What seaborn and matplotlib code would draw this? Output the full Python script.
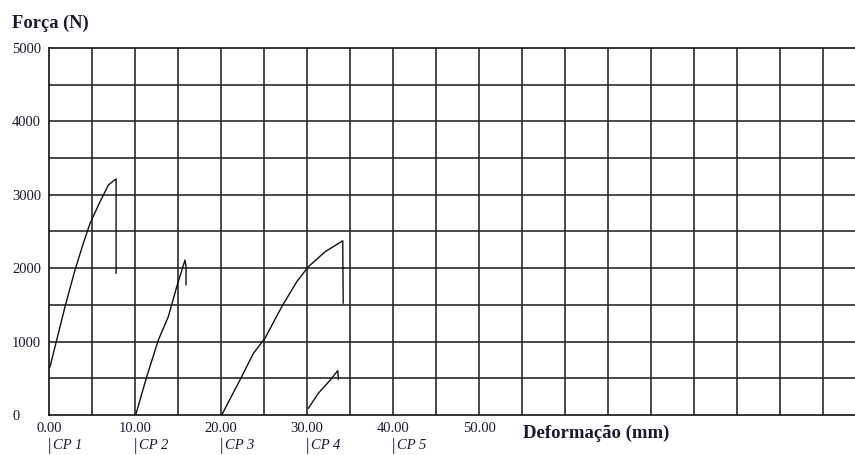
import matplotlib
matplotlib.use("Agg")
import matplotlib.pyplot as plt
import matplotlib.transforms as mtransforms
import pandas as pd
import seaborn as sns

# curves (x = deformacao mm, y = forca N)
cp1_x = [0.0, 0.12, 1.86, 3.02, 3.99, 4.77, 5.93, 6.9, 7.5, 7.8, 7.8]
cp1_y = [640, 658, 1475, 1975, 2339, 2611, 2905, 3133, 3190, 3215, 1930]
cp2_x = [10.08, 11.36, 12.71, 13.87, 14.85, 15.81, 15.93, 15.93]
cp2_y = [0, 522, 1021, 1339, 1748, 2111, 2020, 1771]
cp3_x = [20.08, 22.2, 23.76, 25.1, 27.06, 28.8, 30.15, 32.1, 34.15, 34.2]
cp3_y = [0, 477, 840, 1044, 1475, 1816, 2020, 2224, 2374, 1521]
cp4_x = [30.15, 31.3, 32.7, 33.57, 33.64]
cp4_y = [91, 295, 477, 604, 486]

cp_names = ["CP 1", "CP 2", "CP 3", "CP 4", "CP 5"]
cp_starts = [0, 10, 20, 30, 40]
x_labels = ["0.00", "10.00", "20.00", "30.00", "40.00", "50.00"]
y_ticks = [0, 1000, 2000, 3000, 4000, 5000]

rows = []
for name, xs, ys in [("CP 1", cp1_x, cp1_y), ("CP 2", cp2_x, cp2_y),
                     ("CP 3", cp3_x, cp3_y), ("CP 4", cp4_x, cp4_y)]:
    for i, (a, b) in enumerate(zip(xs, ys)):
        rows.append({"cp": name, "order": i, "x": a, "y": b})
df = pd.DataFrame(rows)

sns.set_style("white")
plt.rcParams["font.family"] = ["Liberation Serif", "DejaVu Serif"]
txt = "#1a1a2c"

fig = plt.figure(figsize=(8.55, 4.55), dpi=100)
ax = fig.add_axes([49 / 855, 1 - 415 / 455, 1 - 49 / 855, 367 / 455])

sns.lineplot(data=df, x="x", y="y", units="cp", estimator=None, sort=False,
             color="#111111", lw=1.0, ax=ax)

ax.set_xlim(0, 93.7)
ax.set_ylim(0, 5000)

# grid
for gx in range(5, 95, 5):
    ax.axvline(gx, color="#2a2a2a", lw=1.2, zorder=0)
for gy in range(500, 5000, 500):
    ax.axhline(gy, color="#2a2a2a", lw=1.2, zorder=0)

for s in ["left", "bottom", "top"]:
    ax.spines[s].set_color("#111111")
    ax.spines[s].set_linewidth(1.2)
ax.spines["right"].set_visible(False)

# y labels are left aligned in the original
ax.set_yticks(y_ticks)
ax.set_yticklabels([str(v) for v in y_ticks], fontsize=10.5, color=txt, ha="left")
ax.set_xticks([])
ax.tick_params(axis="y", length=0, pad=26.6)
ax.set_xlabel("")
ax.set_ylabel("")

trans = mtransforms.blended_transform_factory(ax.transData, ax.transAxes)
for v, lab in zip(range(0, 60, 10), x_labels):
    ax.text(v, -0.038, lab, transform=trans, ha="center", va="center",
            fontsize=10.5, color=txt)
for v, name in zip(cp_starts, cp_names):
    ax.text(v, -0.085, "|", transform=trans, ha="center", va="center",
            fontsize=12, color=txt)
    ax.text(v + 0.5, -0.084, name, transform=trans, ha="left", va="center",
            fontsize=10.5, style="italic", color=txt)

ax.text(55.1, -0.05, "Deformação (mm)", transform=trans, ha="left",
        va="center", fontsize=13.5, fontweight="bold", color=txt)
fig.text(12 / 855, 1 - 23 / 455, "Força (N)", ha="left", va="center",
         fontsize=13.3, fontweight="bold", color=txt)

fig.savefig("out.png", dpi=100, facecolor="white")
